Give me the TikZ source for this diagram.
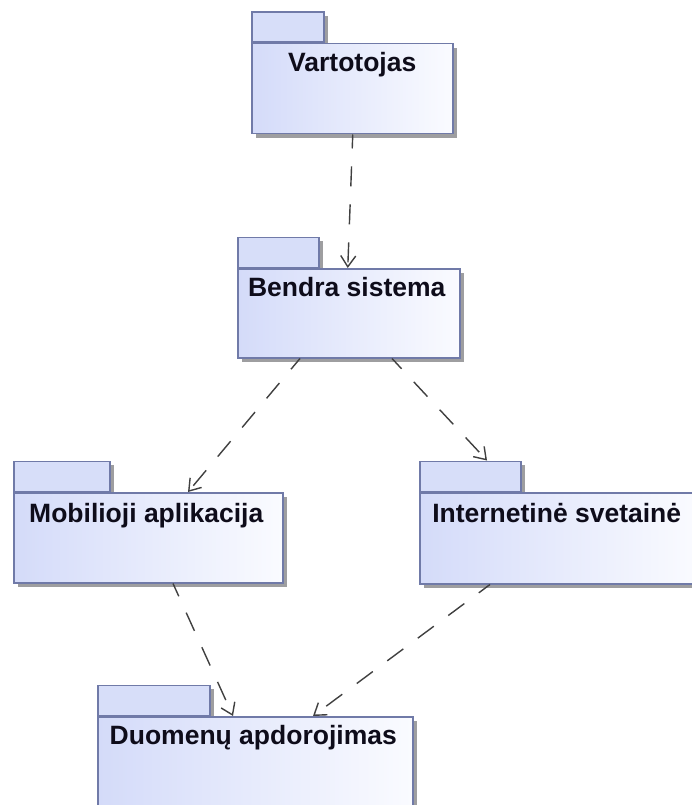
\documentclass[tikz,border=0pt]{standalone}
\usepackage{fontspec}
\setmainfont{Liberation Sans}
\usetikzlibrary{arrows.meta,calc,shadows}

\definecolor{pkgline}{RGB}{112,122,168}
\definecolor{pkgfill}{RGB}{212,219,249}
\definecolor{pkglight}{RGB}{250,251,255}
\definecolor{pkgshadow}{RGB}{158,158,160}
\definecolor{depline}{RGB}{64,64,64}
\definecolor{pkgtext}{RGB}{14,12,26}

\tikzset{
  pkgshade/.style={general shadow={fill=pkgshadow, shadow xshift=4pt, shadow yshift=-4pt}},
  pkgbody/.style={draw=pkgline, line width=1.5pt, left color=pkgfill, right color=pkglight,
    pkgshade, rectangle, inner sep=0pt, anchor=north west},
  pkgtab/.style={draw=pkgline, line width=1.5pt, fill=pkgfill!92!white,
    pkgshade, rectangle, inner sep=0pt, anchor=south west, minimum height=30pt},
  pkgtitle/.style={font=\fontsize{26.5}{30}\selectfont\bfseries, text=pkgtext, anchor=base, inner sep=0pt},
  depends/.style={draw=depline, line width=1.4pt, dash pattern=on 20pt off 18pt, dash phase=6pt,
    -{Straight Barb[length=11pt, width=15pt, line width=1.4pt]}}
}

\begin{document}
\begin{tikzpicture}[x=1pt, y=-1pt]
\useasboundingbox (0,0) rectangle (691,805);
\fill[white] (0,0) rectangle (691,805);

% tabs first, so that the bodies cover their shadows
\node[pkgtab, minimum width=72pt]  (vtab) at (251,43)  {};
\node[pkgtab, minimum width=81pt]  (btab) at (237,268) {};
\node[pkgtab, minimum width=96pt]  (mtab) at (13,492)  {};
\node[pkgtab, minimum width=101pt] (itab) at (419,492) {};
\node[pkgtab, minimum width=112pt] (dtab) at (97,716)  {};

% package bodies
\node[pkgbody, minimum width=201pt, minimum height=90pt] (v) at (vtab.south west) {};
\node[pkgbody, minimum width=222pt, minimum height=89pt] (b) at (btab.south west) {};
\node[pkgbody, minimum width=269pt, minimum height=90pt] (m) at (mtab.south west) {};
\node[pkgbody, minimum width=278pt, minimum height=91pt] (i) at (itab.south west) {};
\node[pkgbody, minimum width=315pt, minimum height=95pt] (d) at (dtab.south west) {};

% package names
\node[pkgtitle] (vt) at ($(v.north)+(0,29)$) {Vartotojas};
\node[pkgtitle] (bt) at ($(b.north)+(-2,28.5)$) {Bendra sistema};
\node[pkgtitle] (mt) at ($(m.north)+(-2,30)$) {Mobilioji aplikacija};
\node[pkgtitle] (it) at ($(i.north)+(-2,30)$) {Internetinė svetainė};
\node[pkgtitle] (dt) at ($(d.north)+(-2,28.5)$) {Duomenų apdorojimas};

% dependencies
\draw[depends] ([xshift=0.5pt]v.south) -- ([xshift=-1pt]b.north);
\draw[depends] ([xshift=63pt]b.south west) -- ([xshift=175pt]m.north west);
\draw[depends] ([xshift=155pt]b.south west) -- ([xshift=68pt]itab.north west);
\draw[depends] ([xshift=160pt]m.south west) -- ([xshift=136pt]d.north west);
\draw[depends] ([xshift=71pt]i.south west) -- ([xshift=216pt]d.north west);
\end{tikzpicture}
\end{document}
